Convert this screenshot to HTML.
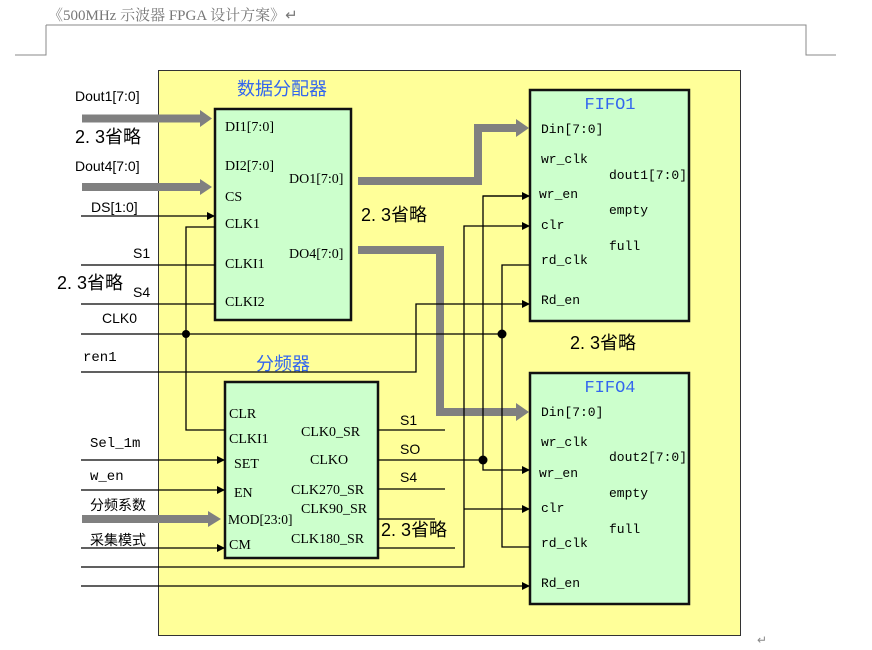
<!DOCTYPE html>
<html><head><meta charset="utf-8"><style>
html,body{margin:0;padding:0;background:#fff;}
svg{display:block;}
.s{font-family:"Liberation Sans","Noto Sans CJK SC",sans-serif;}
.r{font-family:"Liberation Serif","Noto Serif CJK SC",serif;}
.m{font-family:"Liberation Mono","Noto Sans CJK SC",monospace;}
</style></head><body>
<svg width="872" height="650" viewBox="0 0 872 650" xmlns="http://www.w3.org/2000/svg">
<defs>
<marker id="a" markerWidth="8" markerHeight="8" refX="7" refY="4" orient="auto" markerUnits="userSpaceOnUse"><path d="M0,0 L8,4 L0,8 z" fill="#000"/></marker>
</defs>
<text x="48" y="20" class="r" font-size="15" fill="#777">《500MHz 示波器 FPGA 设计方案》↵</text>
<g stroke="#888" stroke-width="1" fill="none">
<path d="M46,25 H806 V55 H836"/><path d="M46,25 V55 H15"/>
</g>
<rect x="158.5" y="70.5" width="582" height="565" fill="#ffff99" stroke="#333" stroke-width="1"/>
<text x="757" y="644" font-size="12" fill="#888" class="s">↵</text>

<!-- boxes -->
<rect x="215" y="109" width="136" height="211" fill="#ccffcc" stroke="#111" stroke-width="2.5"/>
<rect x="225" y="382" width="153" height="176" fill="#ccffcc" stroke="#111" stroke-width="2.5"/>
<rect x="530" y="90" width="159" height="231" fill="#ccffcc" stroke="#111" stroke-width="2.5"/>
<rect x="530" y="373" width="159" height="231" fill="#ccffcc" stroke="#111" stroke-width="2.5"/>

<!-- gray buses -->
<g fill="none" stroke="#808080" stroke-width="8">
<path d="M82,118.5 H202"/><path d="M82,187 H202"/><path d="M82,519 H212"/>
<path d="M358,181 H478 V128 H518"/>
<path d="M358,250 H440 V412 H518"/>
</g>
<g fill="#808080">
<path d="M200,110 L212,118.5 L200,127 z"/><path d="M200,179 L212,187 L200,195 z"/>
<path d="M208,511 L221,519 L208,527 z"/><path d="M516,119 L529,128 L516,137 z"/><path d="M516,403 L529,412 L516,421 z"/>
</g>

<!-- thin wires -->
<g fill="none" stroke="#000" stroke-width="1.3">
<path d="M81,216 H214" marker-end="url(#a)"/>
<path d="M215,227 H186 V430 H225"/>
<path d="M81,265 H215"/><path d="M81,304 H215"/>
<path d="M81,334 H502"/>
<path d="M81,372 H416 V304 H529" marker-end="url(#a)"/>
<path d="M81,460 H224" marker-end="url(#a)"/>
<path d="M81,490 H224" marker-end="url(#a)"/>
<path d="M81,548 H224" marker-end="url(#a)"/>
<path d="M81,567 H464 V226 H529" marker-end="url(#a)"/>
<path d="M464,509 H529" marker-end="url(#a)"/>
<path d="M81,586 H529" marker-end="url(#a)"/>
<path d="M378,430 H445"/><path d="M378,489 H445"/><path d="M378,519 H435"/><path d="M378,548 H455"/>
<path d="M378,460 H483"/>
<path d="M529,196 H483 V470 H529" marker-end="url(#a)"/>
<path d="M529,265 H502 V547 H530"/>
</g>
<path d="M483,196 H529" stroke="#000" stroke-width="1.3" marker-end="url(#a)"/>
<g fill="#000"><circle cx="186" cy="334" r="4"/><circle cx="502" cy="334" r="4.5"/><circle cx="483" cy="460" r="4.5"/></g>

<!-- titles -->
<g class="s" fill="#3366ee" font-size="18">
<text x="237" y="95">数据分配器</text>
<text x="256" y="370">分频器</text>
</g>
<g class="m" fill="#3366ee" font-size="17" text-anchor="middle">
<text x="610" y="109">FIFO1</text><text x="610" y="392">FIFO4</text>
</g>

<!-- left labels -->
<g class="s" font-size="14" fill="#000">
<text x="75" y="101">Dout1[7:0]</text>
<text x="75" y="171">Dout4[7:0]</text>
<text x="91" y="212">DS[1:0]</text>
<text x="133" y="258">S1</text>
<text x="133" y="297">S4</text>
<text x="102" y="323">CLK0</text>
<text x="400" y="425">S1</text><text x="400" y="454">SO</text><text x="400" y="482">S4</text>
</g>
<g class="s" font-size="18" fill="#000">
<text x="75" y="143">2. 3省略</text>
<text x="57" y="289">2. 3省略</text>
<text x="361" y="221">2. 3省略</text>
<text x="570" y="349">2. 3省略</text>
<text x="381" y="536">2. 3省略</text>
</g>
<g class="m" font-size="14" fill="#000">
<text x="83" y="361">ren1</text>
<text x="90" y="447">Sel_1m</text>
<text x="90" y="480">w_en</text>
</g>
<g class="s" font-size="14" fill="#000">
<text x="90" y="510">分频系数</text>
<text x="90" y="545">采集模式</text>
</g>

<!-- box labels -->
<g class="r" font-size="14" fill="#000">
<text x="225" y="131">DI1[7:0]</text>
<text x="225" y="170">DI2[7:0]</text>
<text x="225" y="201">CS</text>
<text x="225" y="228">CLK1</text>
<text x="225" y="268">CLKI1</text>
<text x="225" y="306">CLKI2</text>
<text x="289" y="183">DO1[7:0]</text>
<text x="289" y="258">DO4[7:0]</text>
<text x="229" y="418">CLR</text><text x="229" y="443">CLKI1</text>
<text x="234" y="468">SET</text><text x="234" y="497">EN</text>
<text x="228" y="524" font-size="13.5">MOD[23:0]</text><text x="229" y="549">CM</text>
<text x="301" y="436">CLK0_SR</text><text x="310" y="464">CLKO</text>
<text x="291" y="494">CLK270_SR</text><text x="301" y="513">CLK90_SR</text>
<text x="291" y="543">CLK180_SR</text>
</g>
<g class="m" font-size="13" fill="#000">
<text x="541" y="133">Din[7:0]</text><text x="541" y="163">wr_clk</text>
<text x="539" y="198">wr_en</text><text x="541" y="229">clr</text>
<text x="541" y="264">rd_clk</text><text x="541" y="304">Rd_en</text>
<text x="609" y="179">dout1[7:0]</text><text x="609" y="214">empty</text><text x="609" y="250">full</text>
<text x="541" y="416">Din[7:0]</text><text x="541" y="446">wr_clk</text>
<text x="539" y="477">wr_en</text><text x="541" y="512">clr</text>
<text x="541" y="547">rd_clk</text><text x="541" y="587">Rd_en</text>
<text x="609" y="461">dout2[7:0]</text><text x="609" y="497">empty</text><text x="609" y="533">full</text>
</g>
</svg>
</body></html>
